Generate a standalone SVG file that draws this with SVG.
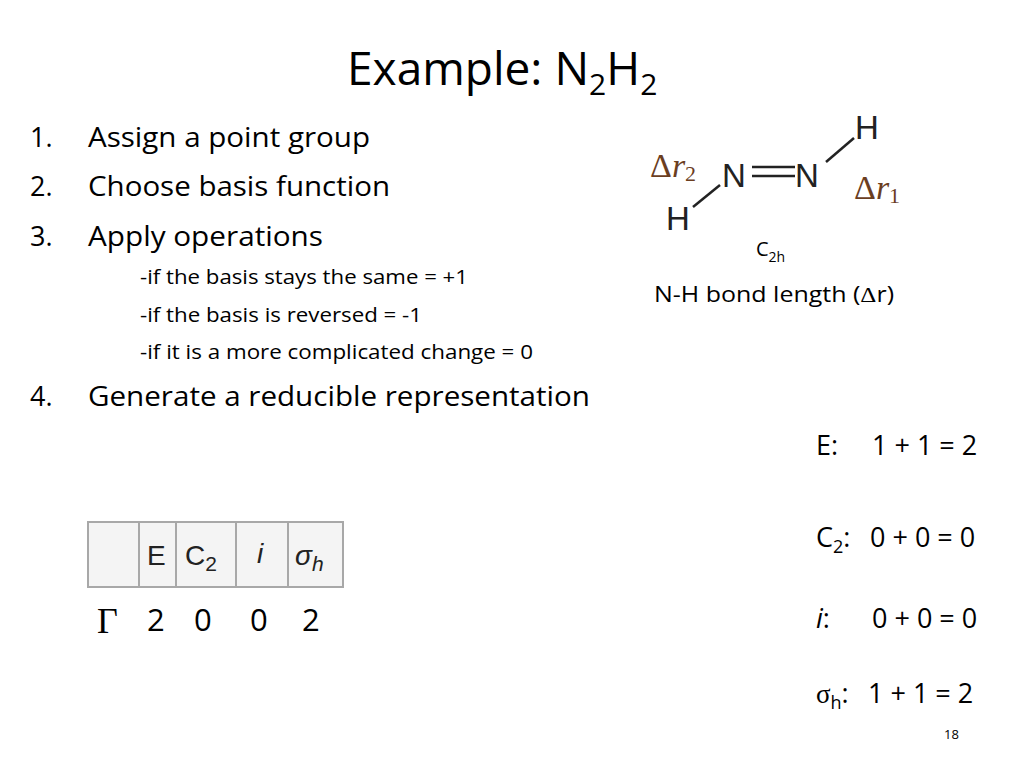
<svg xmlns="http://www.w3.org/2000/svg" width="1024" height="768" viewBox="0 0 1024 768">
<style>
text{font-family:"Open Sans","Liberation Sans",sans-serif;fill:#000}
.b{font-size:27px}
.s{font-size:20px}
text.m{font-family:"Liberation Sans",Arial,sans-serif;fill:#222}
text.g{font-family:"Liberation Serif",serif;fill:#6b3e1f}
text.r{font-family:"Liberation Serif",serif}
.c{fill:#f4f4f4;stroke:#a8a8a8;stroke-width:2}
</style>
<rect width="1024" height="768" fill="#fff"/>
<text x="347" y="85" font-size="46">Example: N<tspan font-size="30" dy="10">2</tspan><tspan dy="-10">H</tspan><tspan font-size="30" dy="10">2</tspan></text>
<g id="list" class="b">
<text x="30" y="147">1.</text><text x="88" y="147" textLength="282" lengthAdjust="spacingAndGlyphs">Assign a point group</text>
<text x="30" y="196">2.</text><text x="88" y="196" textLength="302" lengthAdjust="spacingAndGlyphs">Choose basis function</text>
<text x="30" y="246">3.</text><text x="88" y="246" textLength="235" lengthAdjust="spacingAndGlyphs">Apply operations</text>
<text x="30" y="406">4.</text><text x="88" y="406" textLength="502" lengthAdjust="spacingAndGlyphs">Generate a reducible representation</text>
</g>
<g id="rules" class="s">
<text x="140" y="284" textLength="328" lengthAdjust="spacingAndGlyphs">-if the basis stays the same = +1</text>
<text x="140" y="322" textLength="282" lengthAdjust="spacingAndGlyphs">-if the basis is reversed = -1</text>
<text x="140" y="359" textLength="393" lengthAdjust="spacingAndGlyphs">-if it is a more complicated change = 0</text>
</g>
<g id="molecule">
<text class="m" x="722" y="187" font-size="33">N</text>
<text class="m" x="795" y="187" font-size="33">N</text>
<text class="m" x="855" y="139" font-size="33">H</text>
<text class="m" x="666" y="230" font-size="33">H</text>
<line x1="752" y1="167" x2="795" y2="167" stroke="#222" stroke-width="2.5"/>
<line x1="752" y1="176" x2="795" y2="176" stroke="#222" stroke-width="2.5"/>
<line x1="826" y1="162" x2="854" y2="138" stroke="#222" stroke-width="2.5"/>
<line x1="720" y1="185" x2="693" y2="207" stroke="#222" stroke-width="2.5"/>
<text class="g" x="650" y="177" font-size="34">Δ<tspan font-style="italic">r</tspan><tspan font-size="22" dy="4">2</tspan></text>
<text class="g" x="854" y="199" font-size="34">Δ<tspan font-style="italic">r</tspan><tspan font-size="22" dy="4">1</tspan></text>
</g>
<text x="756" y="256" font-size="20">C<tspan font-size="14" dy="6">2h</tspan></text>
<text x="654" y="302" font-size="21" textLength="240" lengthAdjust="spacingAndGlyphs">N-H bond length (<tspan font-family="Liberation Serif,serif">Δ</tspan>r)</text>
<g id="table">
<rect class="c" x="88" y="522" width="51" height="65"/>
<rect class="c" x="139" y="522" width="37" height="65"/>
<rect class="c" x="176" y="522" width="60" height="65"/>
<rect class="c" x="236" y="522" width="52" height="65"/>
<rect class="c" x="288" y="522" width="55" height="65"/>
<text class="m" x="147" y="565" font-size="28">E</text>
<text class="m" x="185" y="565" font-size="28">C<tspan font-size="21" dy="6">2</tspan></text>
<text class="m" x="257" y="563" font-size="28" font-style="italic">i</text>
<text class="m" x="295" y="565" font-size="28" font-style="italic">σ<tspan font-size="21" dy="6">h</tspan></text>
</g>
<text class="r" x="97" y="633" font-size="36">Γ</text>
<g font-size="31">
<text x="147" y="631">2</text><text x="194" y="631">0</text><text x="250" y="631">0</text><text x="302" y="631">2</text>
</g>
<g id="results" font-size="27">
<text x="816" y="455">E:</text><text x="872" y="455">1 + 1 = 2</text>
<text x="816" y="547">C<tspan font-size="18" dy="6">2</tspan><tspan dy="-6">:</tspan></text><text x="870" y="547">0 + 0 = 0</text>
<text x="816" y="628"><tspan font-style="italic">i</tspan>:</text><text x="872" y="628">0 + 0 = 0</text>
<text x="816" y="703"><tspan font-family="Liberation Serif,serif">σ</tspan><tspan font-size="18" dy="6">h</tspan><tspan dy="-6">:</tspan></text><text x="868" y="703">1 + 1 = 2</text>
</g>
<text x="944" y="739" font-size="13" fill="#888">18</text>
</svg>
